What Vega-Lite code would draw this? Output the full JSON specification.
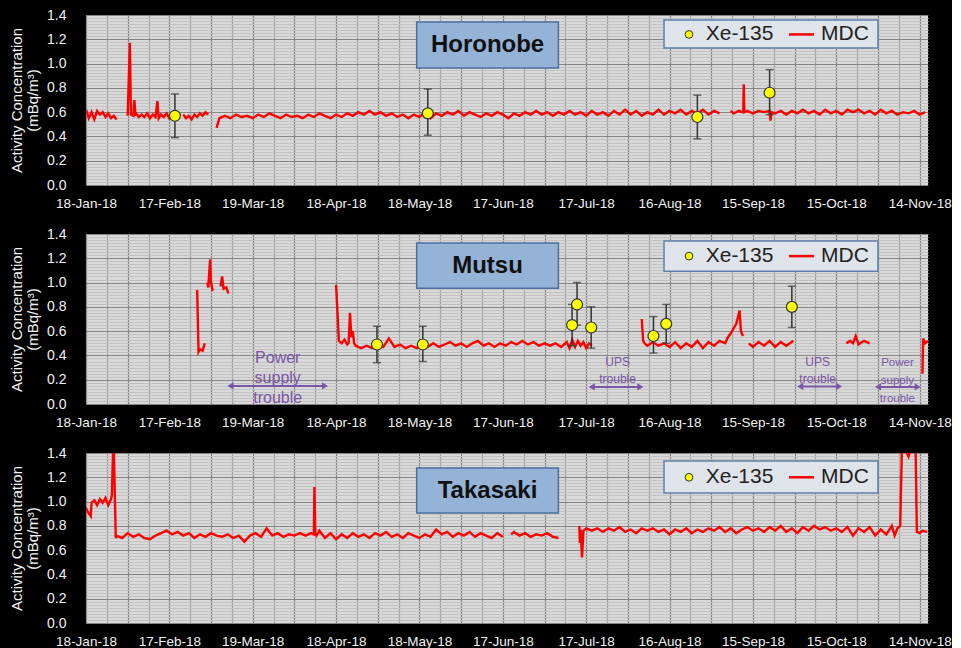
{
"$schema": "https://vega.github.io/schema/vega-lite/v6.json",
"background": "black",
"padding": {"left": 9, "top": 8, "right": 0, "bottom": 0},
"spacing": 17,
"config": {
  "font": "Liberation Sans",
  "view": {"fill": "#d9d9d9", "stroke": null},
  "axis": {"domain": false, "ticks": false, "labelColor": "#f2f2f2", "titleColor": "#f2f2f2", "labelOverlap": false}
},
"datasets": {
  "hor": [
    {"d":"2018-01-18","v":0.62,"g":1},{"d":"2018-01-19","v":0.55,"g":1},{"d":"2018-01-20","v":0.60,"g":1},{"d":"2018-01-21","v":0.54,"g":1},{"d":"2018-01-22","v":0.61,"g":1},{"d":"2018-01-23","v":0.58,"g":1},{"d":"2018-01-24","v":0.60,"g":1},{"d":"2018-01-25","v":0.56,"g":1},{"d":"2018-01-26","v":0.59,"g":1},{"d":"2018-01-27","v":0.55,"g":1},{"d":"2018-01-28","v":0.57,"g":1},{"d":"2018-01-29","v":0.54,"g":1},
    {"d":"2018-02-02","v":0.57,"g":2},{"d":"2018-02-02T19:00Z","v":1.17,"g":2},{"d":"2018-02-03T04:00Z","v":0.58,"g":2},{"d":"2018-02-04","v":0.57,"g":2},{"d":"2018-02-04T10:00Z","v":0.70,"g":2},{"d":"2018-02-04T20:00Z","v":0.57,"g":2},{"d":"2018-02-05","v":0.59,"g":2},{"d":"2018-02-06","v":0.56,"g":2},{"d":"2018-02-07","v":0.58,"g":2},{"d":"2018-02-08","v":0.56,"g":2},{"d":"2018-02-09","v":0.59,"g":2},{"d":"2018-02-10","v":0.55,"g":2},{"d":"2018-02-11","v":0.58,"g":2},{"d":"2018-02-12","v":0.56,"g":2},{"d":"2018-02-12T17:00Z","v":0.69,"g":2},{"d":"2018-02-13T04:00Z","v":0.55,"g":2},{"d":"2018-02-14","v":0.58,"g":2},{"d":"2018-02-15","v":0.56,"g":2},{"d":"2018-02-16","v":0.59,"g":2},{"d":"2018-02-17","v":0.55,"g":2},{"d":"2018-02-18","v":0.58,"g":2},{"d":"2018-02-19","v":0.57,"g":2},{"d":"2018-02-20","v":0.59,"g":2},{"d":"2018-02-21","v":0.57,"g":2},
    {"d":"2018-02-22","v":0.58,"g":3},{"d":"2018-02-23","v":0.55,"g":3},{"d":"2018-02-24","v":0.57,"g":3},{"d":"2018-02-25","v":0.54,"g":3},{"d":"2018-02-26","v":0.58,"g":3},{"d":"2018-02-27","v":0.56,"g":3},{"d":"2018-02-28","v":0.59,"g":3},{"d":"2018-03-01","v":0.57,"g":3},{"d":"2018-03-02","v":0.60,"g":3},{"d":"2018-03-03","v":0.58,"g":3},
    {"d":"2018-03-06","v":0.47,"g":4},{"d":"2018-03-07","v":0.55,"g":4},{"d":"2018-03-09","v":0.57,"g":4},{"d":"2018-03-11","v":0.55,"g":4},{"d":"2018-03-13","v":0.58,"g":4},{"d":"2018-03-15","v":0.56,"g":4},{"d":"2018-03-17","v":0.57,"g":4},{"d":"2018-03-19","v":0.55,"g":4},{"d":"2018-03-21","v":0.58,"g":4},{"d":"2018-03-23","v":0.56,"g":4},{"d":"2018-03-25","v":0.59,"g":4},{"d":"2018-03-27","v":0.57,"g":4},{"d":"2018-03-29","v":0.55,"g":4},{"d":"2018-03-31","v":0.58,"g":4},{"d":"2018-04-02","v":0.56,"g":4},{"d":"2018-04-04","v":0.57,"g":4},{"d":"2018-04-06","v":0.55,"g":4},{"d":"2018-04-08","v":0.58,"g":4},{"d":"2018-04-10","v":0.56,"g":4},{"d":"2018-04-12","v":0.59,"g":4},{"d":"2018-04-14","v":0.57,"g":4},{"d":"2018-04-16","v":0.55,"g":4},{"d":"2018-04-18","v":0.58,"g":4},{"d":"2018-04-20","v":0.56,"g":4},{"d":"2018-04-22","v":0.59,"g":4},{"d":"2018-04-24","v":0.57,"g":4},{"d":"2018-04-26","v":0.60,"g":4},{"d":"2018-04-28","v":0.58,"g":4},{"d":"2018-04-30","v":0.61,"g":4},{"d":"2018-05-02","v":0.58,"g":4},{"d":"2018-05-04","v":0.60,"g":4},{"d":"2018-05-06","v":0.57,"g":4},{"d":"2018-05-08","v":0.59,"g":4},{"d":"2018-05-10","v":0.56,"g":4},{"d":"2018-05-12","v":0.58,"g":4},{"d":"2018-05-14","v":0.55,"g":4},{"d":"2018-05-16","v":0.58,"g":4},{"d":"2018-05-18","v":0.56,"g":4},{"d":"2018-05-20","v":0.60,"g":4},{"d":"2018-05-22","v":0.55,"g":4},{"d":"2018-05-24","v":0.59,"g":4},{"d":"2018-05-26","v":0.57,"g":4},{"d":"2018-05-28","v":0.60,"g":4},{"d":"2018-05-30","v":0.58,"g":4},{"d":"2018-06-01","v":0.61,"g":4},{"d":"2018-06-03","v":0.57,"g":4},{"d":"2018-06-05","v":0.60,"g":4},{"d":"2018-06-07","v":0.58,"g":4},{"d":"2018-06-09","v":0.56,"g":4},{"d":"2018-06-11","v":0.59,"g":4},{"d":"2018-06-13","v":0.57,"g":4},{"d":"2018-06-15","v":0.60,"g":4},{"d":"2018-06-17","v":0.58,"g":4},{"d":"2018-06-19","v":0.55,"g":4},{"d":"2018-06-21","v":0.59,"g":4},{"d":"2018-06-23","v":0.57,"g":4},{"d":"2018-06-25","v":0.60,"g":4},{"d":"2018-06-27","v":0.58,"g":4},{"d":"2018-06-29","v":0.61,"g":4},{"d":"2018-07-01","v":0.58,"g":4},{"d":"2018-07-03","v":0.60,"g":4},{"d":"2018-07-05","v":0.57,"g":4},{"d":"2018-07-07","v":0.60,"g":4},{"d":"2018-07-09","v":0.58,"g":4},{"d":"2018-07-11","v":0.61,"g":4},{"d":"2018-07-13","v":0.58,"g":4},{"d":"2018-07-15","v":0.60,"g":4},{"d":"2018-07-17","v":0.57,"g":4},{"d":"2018-07-19","v":0.61,"g":4},{"d":"2018-07-21","v":0.58,"g":4},{"d":"2018-07-23","v":0.60,"g":4},{"d":"2018-07-25","v":0.57,"g":4},{"d":"2018-07-27","v":0.61,"g":4},{"d":"2018-07-29","v":0.58,"g":4},{"d":"2018-07-31","v":0.62,"g":4},{"d":"2018-08-02","v":0.58,"g":4},{"d":"2018-08-04","v":0.61,"g":4},{"d":"2018-08-06","v":0.57,"g":4},{"d":"2018-08-08","v":0.60,"g":4},{"d":"2018-08-10","v":0.58,"g":4},{"d":"2018-08-12","v":0.62,"g":4},{"d":"2018-08-14","v":0.58,"g":4},{"d":"2018-08-16","v":0.61,"g":4},{"d":"2018-08-18","v":0.59,"g":4},{"d":"2018-08-20","v":0.62,"g":4},{"d":"2018-08-22","v":0.58,"g":4},{"d":"2018-08-24","v":0.61,"g":4},{"d":"2018-08-26","v":0.59,"g":4},{"d":"2018-08-28","v":0.62,"g":4},{"d":"2018-08-30","v":0.58,"g":4},{"d":"2018-09-01","v":0.61,"g":4},{"d":"2018-09-03","v":0.59,"g":4},
    {"d":"2018-09-07","v":0.61,"g":5},{"d":"2018-09-08","v":0.59,"g":5},{"d":"2018-09-10","v":0.61,"g":5},{"d":"2018-09-11","v":0.60,"g":5},{"d":"2018-09-11T12:00Z","v":0.60,"g":5},{"d":"2018-09-11T17:00Z","v":0.83,"g":5},{"d":"2018-09-11T22:00Z","v":0.60,"g":5},{"d":"2018-09-13","v":0.61,"g":5},{"d":"2018-09-15","v":0.59,"g":5},{"d":"2018-09-17","v":0.61,"g":5},{"d":"2018-09-19","v":0.60,"g":5},{"d":"2018-09-21","v":0.61,"g":5},{"d":"2018-09-21T08:00Z","v":0.53,"g":5},{"d":"2018-09-21T16:00Z","v":0.60,"g":5},{"d":"2018-09-23","v":0.59,"g":5},{"d":"2018-09-25","v":0.61,"g":5},{"d":"2018-09-27","v":0.58,"g":5},{"d":"2018-09-29","v":0.61,"g":5},{"d":"2018-10-01","v":0.59,"g":5},{"d":"2018-10-03","v":0.62,"g":5},{"d":"2018-10-05","v":0.59,"g":5},{"d":"2018-10-07","v":0.61,"g":5},{"d":"2018-10-09","v":0.58,"g":5},{"d":"2018-10-11","v":0.62,"g":5},{"d":"2018-10-13","v":0.59,"g":5},{"d":"2018-10-15","v":0.61,"g":5},{"d":"2018-10-17","v":0.58,"g":5},{"d":"2018-10-19","v":0.62,"g":5},{"d":"2018-10-21","v":0.60,"g":5},{"d":"2018-10-23","v":0.62,"g":5},{"d":"2018-10-25","v":0.59,"g":5},{"d":"2018-10-27","v":0.61,"g":5},{"d":"2018-10-29","v":0.58,"g":5},{"d":"2018-10-31","v":0.62,"g":5},{"d":"2018-11-02","v":0.59,"g":5},{"d":"2018-11-04","v":0.61,"g":5},{"d":"2018-11-06","v":0.58,"g":5},{"d":"2018-11-08","v":0.60,"g":5},{"d":"2018-11-10","v":0.59,"g":5},{"d":"2018-11-12","v":0.61,"g":5},{"d":"2018-11-14","v":0.58,"g":5},{"d":"2018-11-16","v":0.60,"g":5}
  ],
  "mut": [
    {"d":"2018-02-27","v":0.94,"g":1},{"d":"2018-02-27T12:00Z","v":0.43,"g":1},{"d":"2018-02-28","v":0.45,"g":1},{"d":"2018-03-01","v":0.44,"g":1},{"d":"2018-03-01T18:00Z","v":0.50,"g":1},
    {"d":"2018-03-02T16:00Z","v":1.00,"g":2},{"d":"2018-03-03","v":0.96,"g":2},{"d":"2018-03-03T16:00Z","v":1.19,"g":2},{"d":"2018-03-04","v":1.00,"g":2},{"d":"2018-03-04T14:00Z","v":0.93,"g":2},
    {"d":"2018-03-07T10:00Z","v":0.97,"g":3},{"d":"2018-03-08","v":1.05,"g":3},{"d":"2018-03-08T12:00Z","v":0.95,"g":3},{"d":"2018-03-09T12:00Z","v":0.96,"g":3},{"d":"2018-03-10T05:00Z","v":0.91,"g":3},
    {"d":"2018-04-18","v":0.98,"g":4},{"d":"2018-04-19","v":0.52,"g":4},{"d":"2018-04-20","v":0.50,"g":4},{"d":"2018-04-21","v":0.53,"g":4},{"d":"2018-04-22","v":0.49,"g":4},{"d":"2018-04-22T12:00Z","v":0.50,"g":4},{"d":"2018-04-23","v":0.75,"g":4},{"d":"2018-04-23T12:00Z","v":0.55,"g":4},{"d":"2018-04-24","v":0.60,"g":4},{"d":"2018-04-24T12:00Z","v":0.50,"g":4},{"d":"2018-04-25","v":0.48,"g":4},{"d":"2018-04-27","v":0.46,"g":4},{"d":"2018-04-29","v":0.48,"g":4},{"d":"2018-05-01","v":0.46,"g":4},{"d":"2018-05-03","v":0.49,"g":4},{"d":"2018-05-05","v":0.47,"g":4},{"d":"2018-05-07","v":0.54,"g":4},{"d":"2018-05-09","v":0.47,"g":4},{"d":"2018-05-11","v":0.49,"g":4},{"d":"2018-05-13","v":0.46,"g":4},{"d":"2018-05-15","v":0.48,"g":4},{"d":"2018-05-17","v":0.46,"g":4},{"d":"2018-05-19","v":0.49,"g":4},{"d":"2018-05-21","v":0.47,"g":4},{"d":"2018-05-23","v":0.50,"g":4},{"d":"2018-05-25","v":0.47,"g":4},{"d":"2018-05-27","v":0.49,"g":4},{"d":"2018-05-29","v":0.51,"g":4},{"d":"2018-05-31","v":0.48,"g":4},{"d":"2018-06-02","v":0.50,"g":4},{"d":"2018-06-04","v":0.47,"g":4},{"d":"2018-06-06","v":0.50,"g":4},{"d":"2018-06-08","v":0.52,"g":4},{"d":"2018-06-10","v":0.48,"g":4},{"d":"2018-06-12","v":0.50,"g":4},{"d":"2018-06-14","v":0.47,"g":4},{"d":"2018-06-16","v":0.50,"g":4},{"d":"2018-06-18","v":0.48,"g":4},{"d":"2018-06-20","v":0.51,"g":4},{"d":"2018-06-22","v":0.49,"g":4},{"d":"2018-06-24","v":0.52,"g":4},{"d":"2018-06-26","v":0.49,"g":4},{"d":"2018-06-28","v":0.51,"g":4},{"d":"2018-06-30","v":0.48,"g":4},{"d":"2018-07-02","v":0.50,"g":4},{"d":"2018-07-04","v":0.48,"g":4},{"d":"2018-07-06","v":0.50,"g":4},{"d":"2018-07-08","v":0.47,"g":4},{"d":"2018-07-10","v":0.51,"g":4},{"d":"2018-07-11","v":0.46,"g":4},{"d":"2018-07-12","v":0.53,"g":4},{"d":"2018-07-13","v":0.47,"g":4},{"d":"2018-07-14","v":0.52,"g":4},{"d":"2018-07-15","v":0.48,"g":4},{"d":"2018-07-16","v":0.51,"g":4},{"d":"2018-07-17","v":0.46,"g":4},{"d":"2018-07-18","v":0.50,"g":4},{"d":"2018-07-19","v":0.48,"g":4},
    {"d":"2018-08-06","v":0.70,"g":5},{"d":"2018-08-06T12:00Z","v":0.52,"g":5},{"d":"2018-08-07","v":0.50,"g":5},{"d":"2018-08-08","v":0.48,"g":5},{"d":"2018-08-10","v":0.51,"g":5},{"d":"2018-08-12","v":0.48,"g":5},{"d":"2018-08-14","v":0.50,"g":5},{"d":"2018-08-16","v":0.47,"g":5},{"d":"2018-08-18","v":0.51,"g":5},{"d":"2018-08-20","v":0.46,"g":5},{"d":"2018-08-22","v":0.50,"g":5},{"d":"2018-08-24","v":0.47,"g":5},{"d":"2018-08-26","v":0.52,"g":5},{"d":"2018-08-28","v":0.46,"g":5},{"d":"2018-08-30","v":0.51,"g":5},{"d":"2018-09-01","v":0.48,"g":5},{"d":"2018-09-03","v":0.52,"g":5},{"d":"2018-09-05","v":0.50,"g":5},{"d":"2018-09-06","v":0.55,"g":5},{"d":"2018-09-07","v":0.58,"g":5},{"d":"2018-09-08","v":0.62,"g":5},{"d":"2018-09-09","v":0.66,"g":5},{"d":"2018-09-10T05:00Z","v":0.77,"g":5},{"d":"2018-09-10T16:00Z","v":0.60,"g":5},{"d":"2018-09-11T10:00Z","v":0.56,"g":5},
    {"d":"2018-09-13T12:00Z","v":0.50,"g":6},{"d":"2018-09-15","v":0.47,"g":6},{"d":"2018-09-17","v":0.51,"g":6},{"d":"2018-09-19","v":0.48,"g":6},{"d":"2018-09-21","v":0.52,"g":6},{"d":"2018-09-23","v":0.47,"g":6},{"d":"2018-09-25","v":0.51,"g":6},{"d":"2018-09-27","v":0.48,"g":6},{"d":"2018-09-29T14:00Z","v":0.52,"g":6},
    {"d":"2018-10-18T14:00Z","v":0.50,"g":7},{"d":"2018-10-20","v":0.52,"g":7},{"d":"2018-10-21","v":0.50,"g":7},{"d":"2018-10-22","v":0.56,"g":7},{"d":"2018-10-23","v":0.49,"g":7},{"d":"2018-10-25","v":0.52,"g":7},{"d":"2018-10-27","v":0.50,"g":7},
    {"d":"2018-11-15","v":0.25,"g":8},{"d":"2018-11-15T06:00Z","v":0.54,"g":8},{"d":"2018-11-16","v":0.50,"g":8},{"d":"2018-11-17","v":0.52,"g":8}
  ],
  "tak": [
    {"d":"2018-01-18","v":0.95,"g":1},{"d":"2018-01-18T12:00Z","v":0.92,"g":1},{"d":"2018-01-19T17:00Z","v":0.88,"g":1},{"d":"2018-01-20","v":0.99,"g":1},{"d":"2018-01-21","v":1.01,"g":1},{"d":"2018-01-22","v":0.97,"g":1},{"d":"2018-01-23","v":1.02,"g":1},{"d":"2018-01-24","v":0.99,"g":1},{"d":"2018-01-25","v":1.03,"g":1},{"d":"2018-01-26","v":0.97,"g":1},{"d":"2018-01-27","v":1.02,"g":1},{"d":"2018-01-27T07:00Z","v":1.05,"g":1},{"d":"2018-01-27T22:00Z","v":1.55,"g":1},{"d":"2018-01-28T17:00Z","v":0.70,"g":1},{"d":"2018-01-29","v":0.72,"g":1},{"d":"2018-01-31","v":0.70,"g":1},{"d":"2018-02-02","v":0.74,"g":1},{"d":"2018-02-04","v":0.71,"g":1},{"d":"2018-02-06","v":0.73,"g":1},{"d":"2018-02-08","v":0.70,"g":1},{"d":"2018-02-10","v":0.69,"g":1},{"d":"2018-02-12","v":0.72,"g":1},{"d":"2018-02-14","v":0.74,"g":1},{"d":"2018-02-16","v":0.76,"g":1},{"d":"2018-02-18","v":0.73,"g":1},{"d":"2018-02-20","v":0.75,"g":1},{"d":"2018-02-22","v":0.72,"g":1},{"d":"2018-02-24","v":0.74,"g":1},{"d":"2018-02-26","v":0.70,"g":1},{"d":"2018-02-28","v":0.73,"g":1},{"d":"2018-03-02","v":0.71,"g":1},{"d":"2018-03-04","v":0.74,"g":1},{"d":"2018-03-06","v":0.72,"g":1},{"d":"2018-03-08","v":0.71,"g":1},{"d":"2018-03-10","v":0.73,"g":1},{"d":"2018-03-12","v":0.70,"g":1},{"d":"2018-03-14","v":0.72,"g":1},{"d":"2018-03-16","v":0.67,"g":1},{"d":"2018-03-18","v":0.72,"g":1},{"d":"2018-03-20","v":0.74,"g":1},{"d":"2018-03-22","v":0.71,"g":1},{"d":"2018-03-24","v":0.78,"g":1},{"d":"2018-03-26","v":0.72,"g":1},{"d":"2018-03-28","v":0.74,"g":1},{"d":"2018-03-30","v":0.71,"g":1},{"d":"2018-04-01","v":0.73,"g":1},{"d":"2018-04-03","v":0.72,"g":1},{"d":"2018-04-05","v":0.74,"g":1},{"d":"2018-04-07","v":0.72,"g":1},{"d":"2018-04-09","v":0.74,"g":1},{"d":"2018-04-10","v":0.73,"g":1},{"d":"2018-04-10T05:00Z","v":1.12,"g":1},{"d":"2018-04-10T12:00Z","v":0.74,"g":1},{"d":"2018-04-11","v":0.72,"g":1},{"d":"2018-04-12","v":0.76,"g":1},{"d":"2018-04-14","v":0.70,"g":1},{"d":"2018-04-16","v":0.74,"g":1},{"d":"2018-04-18","v":0.69,"g":1},{"d":"2018-04-20","v":0.73,"g":1},{"d":"2018-04-22","v":0.70,"g":1},{"d":"2018-04-24","v":0.74,"g":1},{"d":"2018-04-26","v":0.71,"g":1},{"d":"2018-04-28","v":0.73,"g":1},{"d":"2018-04-30","v":0.70,"g":1},{"d":"2018-05-02","v":0.74,"g":1},{"d":"2018-05-04","v":0.72,"g":1},{"d":"2018-05-06","v":0.75,"g":1},{"d":"2018-05-08","v":0.71,"g":1},{"d":"2018-05-10","v":0.73,"g":1},{"d":"2018-05-12","v":0.70,"g":1},{"d":"2018-05-14","v":0.74,"g":1},{"d":"2018-05-16","v":0.72,"g":1},{"d":"2018-05-18","v":0.70,"g":1},{"d":"2018-05-20","v":0.73,"g":1},{"d":"2018-05-22","v":0.71,"g":1},{"d":"2018-05-24","v":0.77,"g":1},{"d":"2018-05-26","v":0.73,"g":1},{"d":"2018-05-28","v":0.75,"g":1},{"d":"2018-05-30","v":0.71,"g":1},{"d":"2018-06-01","v":0.74,"g":1},{"d":"2018-06-03","v":0.72,"g":1},{"d":"2018-06-05","v":0.75,"g":1},{"d":"2018-06-07","v":0.71,"g":1},{"d":"2018-06-09","v":0.74,"g":1},{"d":"2018-06-11","v":0.72,"g":1},{"d":"2018-06-13","v":0.70,"g":1},{"d":"2018-06-15","v":0.74,"g":1},{"d":"2018-06-17","v":0.71,"g":1},
    {"d":"2018-06-20","v":0.73,"g":2},{"d":"2018-06-21","v":0.75,"g":2},{"d":"2018-06-23","v":0.72,"g":2},{"d":"2018-06-25","v":0.74,"g":2},{"d":"2018-06-27","v":0.71,"g":2},{"d":"2018-06-29","v":0.73,"g":2},{"d":"2018-07-01","v":0.72,"g":2},{"d":"2018-07-03","v":0.74,"g":2},{"d":"2018-07-05","v":0.71,"g":2},{"d":"2018-07-07","v":0.70,"g":2},
    {"d":"2018-07-14T12:00Z","v":0.80,"g":3},{"d":"2018-07-14T18:00Z","v":0.66,"g":3},{"d":"2018-07-15","v":0.77,"g":3},{"d":"2018-07-15T12:00Z","v":0.54,"g":3},{"d":"2018-07-16","v":0.76,"g":3},{"d":"2018-07-17","v":0.78,"g":3},{"d":"2018-07-19","v":0.76,"g":3},{"d":"2018-07-21","v":0.78,"g":3},{"d":"2018-07-23","v":0.75,"g":3},{"d":"2018-07-25","v":0.78,"g":3},{"d":"2018-07-27","v":0.76,"g":3},{"d":"2018-07-29","v":0.79,"g":3},{"d":"2018-07-31","v":0.75,"g":3},{"d":"2018-08-02","v":0.77,"g":3},{"d":"2018-08-04","v":0.74,"g":3},{"d":"2018-08-06","v":0.78,"g":3},{"d":"2018-08-08","v":0.76,"g":3},{"d":"2018-08-10","v":0.78,"g":3},{"d":"2018-08-12","v":0.75,"g":3},{"d":"2018-08-14","v":0.77,"g":3},{"d":"2018-08-16","v":0.73,"g":3},{"d":"2018-08-18","v":0.77,"g":3},{"d":"2018-08-20","v":0.75,"g":3},{"d":"2018-08-22","v":0.78,"g":3},{"d":"2018-08-24","v":0.74,"g":3},{"d":"2018-08-26","v":0.77,"g":3},{"d":"2018-08-28","v":0.75,"g":3},{"d":"2018-08-30","v":0.78,"g":3},{"d":"2018-09-01","v":0.76,"g":3},{"d":"2018-09-03","v":0.79,"g":3},{"d":"2018-09-05","v":0.75,"g":3},{"d":"2018-09-07","v":0.78,"g":3},{"d":"2018-09-09","v":0.74,"g":3},{"d":"2018-09-11","v":0.77,"g":3},{"d":"2018-09-13","v":0.79,"g":3},{"d":"2018-09-15","v":0.76,"g":3},{"d":"2018-09-17","v":0.78,"g":3},{"d":"2018-09-19","v":0.75,"g":3},{"d":"2018-09-21","v":0.79,"g":3},{"d":"2018-09-23","v":0.76,"g":3},{"d":"2018-09-25","v":0.80,"g":3},{"d":"2018-09-27","v":0.75,"g":3},{"d":"2018-09-29","v":0.78,"g":3},{"d":"2018-10-01","v":0.74,"g":3},{"d":"2018-10-03","v":0.79,"g":3},{"d":"2018-10-05","v":0.76,"g":3},{"d":"2018-10-07","v":0.80,"g":3},{"d":"2018-10-09","v":0.77,"g":3},{"d":"2018-10-11","v":0.79,"g":3},{"d":"2018-10-13","v":0.76,"g":3},{"d":"2018-10-15","v":0.78,"g":3},{"d":"2018-10-17","v":0.75,"g":3},{"d":"2018-10-19","v":0.79,"g":3},{"d":"2018-10-21","v":0.72,"g":3},{"d":"2018-10-23","v":0.78,"g":3},{"d":"2018-10-25","v":0.75,"g":3},{"d":"2018-10-27","v":0.79,"g":3},{"d":"2018-10-29","v":0.72,"g":3},{"d":"2018-10-31","v":0.77,"g":3},{"d":"2018-11-02","v":0.73,"g":3},{"d":"2018-11-04","v":0.80,"g":3},{"d":"2018-11-05","v":0.72,"g":3},{"d":"2018-11-06","v":0.78,"g":3},{"d":"2018-11-07","v":0.80,"g":3},{"d":"2018-11-07T16:00Z","v":1.50,"g":3},{"d":"2018-11-08","v":1.45,"g":3},{"d":"2018-11-09","v":1.42,"g":3},{"d":"2018-11-10","v":1.37,"g":3},{"d":"2018-11-11","v":1.45,"g":3},{"d":"2018-11-12T12:00Z","v":1.50,"g":3},{"d":"2018-11-13","v":0.75,"g":3},{"d":"2018-11-14","v":0.74,"g":3},{"d":"2018-11-15","v":0.76,"g":3},{"d":"2018-11-16T18:00Z","v":0.75,"g":3}
  ],
  "xeH": [
    {"d":"2018-02-19","v":0.57,"lo":0.39,"hi":0.75},
    {"d":"2018-05-21","v":0.59,"lo":0.41,"hi":0.79},
    {"d":"2018-08-26","v":0.56,"lo":0.38,"hi":0.74},
    {"d":"2018-09-21","v":0.76,"lo":0.58,"hi":0.95}
  ],
  "xeM": [
    {"d":"2018-05-02T17:00Z","v":0.49,"lo":0.34,"hi":0.64},
    {"d":"2018-05-19T05:00Z","v":0.49,"lo":0.35,"hi":0.64},
    {"d":"2018-07-11T22:00Z","v":0.65,"lo":0.48,"hi":0.82},
    {"d":"2018-07-13T17:00Z","v":0.82,"lo":0.65,"hi":1.00},
    {"d":"2018-07-18T19:00Z","v":0.63,"lo":0.46,"hi":0.80},
    {"d":"2018-08-10T05:00Z","v":0.56,"lo":0.42,"hi":0.72},
    {"d":"2018-08-14T19:00Z","v":0.66,"lo":0.50,"hi":0.82},
    {"d":"2018-09-29","v":0.80,"lo":0.63,"hi":0.97}
  ]
},
"vconcat": [
 {
  "width": 842, "height": 170,
  "layer": [
   {"data": {"name": "hor"}, "mark": {"type": "line", "color": "#ff0000", "strokeWidth": 2.4, "clip": true},
    "encoding": {
     "x": {"field": "d", "type": "temporal", "scale": {"type": "utc", "domain": [1516233600000, 1542412800000]},
       "axis": {"title": null, "labelOverlap": false, "tickCount": 500, "values": [1516233600000,1516881600000,1517529600000,1518177600000,1518825600000,1519473600000,1520121600000,1520769600000,1521417600000,1522065600000,1522713600000,1523361600000,1524009600000,1524657600000,1525305600000,1525953600000,1526601600000,1527249600000,1527897600000,1528545600000,1529193600000,1529841600000,1530489600000,1531137600000,1531785600000,1532433600000,1533081600000,1533729600000,1534377600000,1535025600000,1535673600000,1536321600000,1536969600000,1537617600000,1538265600000,1538913600000,1539561600000,1540209600000,1540857600000,1541505600000,1542153600000],
         "labelExpr": "round((datum.value-1516233600000)/648000000) % 4 == 0 ? utcFormat(datum.value, '%d-%b-%y') : ''",
         "gridColor": {"condition": {"test": "round((datum.value-1516233600000)/648000000) % 2 == 0", "value": "#858585"}, "value": "#a0a0a0"},
         "gridWidth": 1.2, "labelFontSize": 13.5, "labelPadding": 11, "labelFlush": false}},
     "y": {"field": "v", "type": "quantitative", "scale": {"domain": [0, 1.4], "nice": false},
       "axis": {"title": ["Activity Concentration", "(mBq/m³)"], "labelOverlap": false, "tickCount": 500, "values": [0,0.025,0.05,0.075,0.1,0.125,0.15,0.175,0.2,0.225,0.25,0.275,0.3,0.325,0.35,0.375,0.4,0.425,0.45,0.475,0.5,0.525,0.55,0.575,0.6,0.625,0.65,0.675,0.7,0.725,0.75,0.775,0.8,0.825,0.85,0.875,0.9,0.925,0.95,0.975,1,1.025,1.05,1.075,1.1,1.125,1.15,1.175,1.2,1.225,1.25,1.275,1.3,1.325,1.35,1.375,1.4],
         "labelExpr": "round(datum.value*40) % 8 == 0 ? format(datum.value, '.1f') : ''",
         "gridColor": {"condition": {"test": "round(datum.value*40) % 8 == 0", "value": "#858585"}, "value": "#c2c2c2"},
         "labelFontSize": 14, "labelPadding": 20, "titleFontSize": 15, "titleFontWeight": "normal", "titlePadding": 6, "titleLineHeight": 16}},
     "detail": {"field": "g"}}},
   {"data": {"name": "xeH"}, "mark": {"type": "rule", "color": "#333333", "strokeWidth": 1.5},
    "encoding": {"x": {"field": "d", "type": "temporal"}, "y": {"field": "lo", "type": "quantitative"}, "y2": {"field": "hi"}}},
   {"data": {"name": "xeH"}, "mark": {"type": "tick", "orient": "horizontal", "color": "#333333", "size": 8, "thickness": 1.5},
    "encoding": {"x": {"field": "d", "type": "temporal"}, "y": {"field": "lo", "type": "quantitative"}}},
   {"data": {"name": "xeH"}, "mark": {"type": "tick", "orient": "horizontal", "color": "#333333", "size": 8, "thickness": 1.5},
    "encoding": {"x": {"field": "d", "type": "temporal"}, "y": {"field": "hi", "type": "quantitative"}}},
   {"data": {"name": "xeH"}, "mark": {"type": "point", "filled": true, "fill": "#ffff00", "stroke": "#333333", "strokeWidth": 1.2, "size": 120, "opacity": 1},
    "encoding": {"x": {"field": "d", "type": "temporal"}, "y": {"field": "v", "type": "quantitative"}}},
   {"data": {"values": [{}]}, "mark": {"type": "rect", "fill": "#95b3d7", "stroke": "#4a6fa0", "strokeWidth": 1.5},
    "encoding": {"x": {"datum": {"year": 2018, "month": 5, "date": 17, "utc": true}, "type": "temporal"}, "x2": {"datum": {"year": 2018, "month": 7, "date": 7, "utc": true}}, "y": {"datum": 1.342, "type": "quantitative"}, "y2": {"datum": 0.963}}},
   {"data": {"values": [{}]}, "mark": {"type": "text", "text": "Horonobe", "fontSize": 24, "fontWeight": "bold", "color": "#111111", "baseline": "middle", "align": "center"},
    "encoding": {"x": {"datum": {"year": 2018, "month": 6, "date": 11, "hours": 12, "utc": true}, "type": "temporal"}, "y": {"datum": 1.15, "type": "quantitative"}}},
   {"data": {"values": [{}]}, "mark": {"type": "rect", "fill": "#dfe3ea", "stroke": "#5f7fab", "strokeWidth": 1.5},
    "encoding": {"x": {"datum": {"year": 2018, "month": 8, "date": 14, "utc": true}, "type": "temporal"}, "x2": {"datum": {"year": 2018, "month": 10, "date": 30, "utc": true}}, "y": {"datum": 1.359, "type": "quantitative"}, "y2": {"datum": 1.128}}},
   {"data": {"values": [{}]}, "mark": {"type": "point", "filled": true, "fill": "#ffff00", "stroke": "#333333", "strokeWidth": 1, "size": 60, "opacity": 1},
    "encoding": {"x": {"datum": {"year": 2018, "month": 8, "date": 23, "utc": true}, "type": "temporal"}, "y": {"datum": 1.24, "type": "quantitative"}}},
   {"data": {"values": [{}]}, "mark": {"type": "text", "text": "Xe-135", "fontSize": 21, "color": "#222222", "baseline": "middle", "align": "left"},
    "encoding": {"x": {"datum": {"year": 2018, "month": 8, "date": 29, "utc": true}, "type": "temporal"}, "y": {"datum": 1.24, "type": "quantitative"}}},
   {"data": {"values": [{}]}, "mark": {"type": "rule", "color": "#ff0000", "strokeWidth": 2.5},
    "encoding": {"x": {"datum": {"year": 2018, "month": 9, "date": 28, "utc": true}, "type": "temporal"}, "x2": {"datum": {"year": 2018, "month": 10, "date": 7, "utc": true}}, "y": {"datum": 1.24, "type": "quantitative"}}},
   {"data": {"values": [{}]}, "mark": {"type": "text", "text": "MDC", "fontSize": 21, "color": "#222222", "baseline": "middle", "align": "left"},
    "encoding": {"x": {"datum": {"year": 2018, "month": 10, "date": 9, "hours": 12, "utc": true}, "type": "temporal"}, "y": {"datum": 1.24, "type": "quantitative"}}}
  ]
 },
 {
  "width": 842, "height": 170,
  "layer": [
   {"data": {"name": "mut"}, "mark": {"type": "line", "color": "#ff0000", "strokeWidth": 2.4, "clip": true},
    "encoding": {
     "x": {"field": "d", "type": "temporal", "scale": {"type": "utc", "domain": [1516233600000, 1542412800000]},
       "axis": {"title": null, "labelOverlap": false, "tickCount": 500, "values": [1516233600000,1516881600000,1517529600000,1518177600000,1518825600000,1519473600000,1520121600000,1520769600000,1521417600000,1522065600000,1522713600000,1523361600000,1524009600000,1524657600000,1525305600000,1525953600000,1526601600000,1527249600000,1527897600000,1528545600000,1529193600000,1529841600000,1530489600000,1531137600000,1531785600000,1532433600000,1533081600000,1533729600000,1534377600000,1535025600000,1535673600000,1536321600000,1536969600000,1537617600000,1538265600000,1538913600000,1539561600000,1540209600000,1540857600000,1541505600000,1542153600000],
         "labelExpr": "round((datum.value-1516233600000)/648000000) % 4 == 0 ? utcFormat(datum.value, '%d-%b-%y') : ''",
         "gridColor": {"condition": {"test": "round((datum.value-1516233600000)/648000000) % 2 == 0", "value": "#858585"}, "value": "#a0a0a0"},
         "gridWidth": 1.2, "labelFontSize": 13.5, "labelPadding": 11, "labelFlush": false}},
     "y": {"field": "v", "type": "quantitative", "scale": {"domain": [0, 1.4], "nice": false},
       "axis": {"title": ["Activity Concentration", "(mBq/m³)"], "labelOverlap": false, "tickCount": 500, "values": [0,0.025,0.05,0.075,0.1,0.125,0.15,0.175,0.2,0.225,0.25,0.275,0.3,0.325,0.35,0.375,0.4,0.425,0.45,0.475,0.5,0.525,0.55,0.575,0.6,0.625,0.65,0.675,0.7,0.725,0.75,0.775,0.8,0.825,0.85,0.875,0.9,0.925,0.95,0.975,1,1.025,1.05,1.075,1.1,1.125,1.15,1.175,1.2,1.225,1.25,1.275,1.3,1.325,1.35,1.375,1.4],
         "labelExpr": "round(datum.value*40) % 8 == 0 ? format(datum.value, '.1f') : ''",
         "gridColor": {"condition": {"test": "round(datum.value*40) % 8 == 0", "value": "#858585"}, "value": "#c2c2c2"},
         "labelFontSize": 14, "labelPadding": 20, "titleFontSize": 15, "titleFontWeight": "normal", "titlePadding": 6, "titleLineHeight": 16}},
     "detail": {"field": "g"}}},
   {"data": {"name": "xeM"}, "mark": {"type": "rule", "color": "#333333", "strokeWidth": 1.5},
    "encoding": {"x": {"field": "d", "type": "temporal"}, "y": {"field": "lo", "type": "quantitative"}, "y2": {"field": "hi"}}},
   {"data": {"name": "xeM"}, "mark": {"type": "tick", "orient": "horizontal", "color": "#333333", "size": 8, "thickness": 1.5},
    "encoding": {"x": {"field": "d", "type": "temporal"}, "y": {"field": "lo", "type": "quantitative"}}},
   {"data": {"name": "xeM"}, "mark": {"type": "tick", "orient": "horizontal", "color": "#333333", "size": 8, "thickness": 1.5},
    "encoding": {"x": {"field": "d", "type": "temporal"}, "y": {"field": "hi", "type": "quantitative"}}},
   {"data": {"name": "xeM"}, "mark": {"type": "point", "filled": true, "fill": "#ffff00", "stroke": "#333333", "strokeWidth": 1.2, "size": 120, "opacity": 1},
    "encoding": {"x": {"field": "d", "type": "temporal"}, "y": {"field": "v", "type": "quantitative"}}},
   {"data": {"values": [{}]}, "mark": {"type": "text", "text": ["Power", "supply", "trouble"], "fontSize": 16, "lineHeight": 20, "color": "#7b56a8", "baseline": "middle", "align": "center"},
    "encoding": {"x": {"datum": {"year": 2018, "month": 3, "date": 28, "utc": true}, "type": "temporal"}, "y": {"datum": 0.381, "type": "quantitative"}}},
   {"data": {"values": [{}]}, "mark": {"type": "rule", "color": "#7b56a8", "strokeWidth": 2},
    "encoding": {"x": {"datum": {"year": 2018, "month": 3, "date": 11, "utc": true}, "type": "temporal"}, "x2": {"datum": {"year": 2018, "month": 4, "date": 14, "utc": true}}, "y": {"datum": 0.149, "type": "quantitative"}}},
   {"data": {"values": [{}]}, "mark": {"type": "point", "shape": "triangle-left", "filled": true, "color": "#7b56a8", "size": 50, "opacity": 1},
    "encoding": {"x": {"datum": {"year": 2018, "month": 3, "date": 11, "utc": true}, "type": "temporal"}, "y": {"datum": 0.149, "type": "quantitative"}}},
   {"data": {"values": [{}]}, "mark": {"type": "point", "shape": "triangle-right", "filled": true, "color": "#7b56a8", "size": 50, "opacity": 1},
    "encoding": {"x": {"datum": {"year": 2018, "month": 4, "date": 14, "utc": true}, "type": "temporal"}, "y": {"datum": 0.149, "type": "quantitative"}}},
   {"data": {"values": [{}]}, "mark": {"type": "text", "text": ["UPS", "trouble"], "fontSize": 12, "lineHeight": 17, "color": "#7b56a8", "baseline": "middle", "align": "center"},
    "encoding": {"x": {"datum": {"year": 2018, "month": 7, "date": 28, "hours": 7, "utc": true}, "type": "temporal"}, "y": {"datum": 0.344, "type": "quantitative"}}},
   {"data": {"values": [{}]}, "mark": {"type": "rule", "color": "#7b56a8", "strokeWidth": 2},
    "encoding": {"x": {"datum": {"year": 2018, "month": 7, "date": 19, "utc": true}, "type": "temporal"}, "x2": {"datum": {"year": 2018, "month": 8, "date": 5, "hours": 12, "utc": true}}, "y": {"datum": 0.141, "type": "quantitative"}}},
   {"data": {"values": [{}]}, "mark": {"type": "point", "shape": "triangle-left", "filled": true, "color": "#7b56a8", "size": 50, "opacity": 1},
    "encoding": {"x": {"datum": {"year": 2018, "month": 7, "date": 19, "utc": true}, "type": "temporal"}, "y": {"datum": 0.141, "type": "quantitative"}}},
   {"data": {"values": [{}]}, "mark": {"type": "point", "shape": "triangle-right", "filled": true, "color": "#7b56a8", "size": 50, "opacity": 1},
    "encoding": {"x": {"datum": {"year": 2018, "month": 8, "date": 5, "hours": 12, "utc": true}, "type": "temporal"}, "y": {"datum": 0.141, "type": "quantitative"}}},
   {"data": {"values": [{}]}, "mark": {"type": "text", "text": ["UPS", "trouble"], "fontSize": 12, "lineHeight": 17, "color": "#7b56a8", "baseline": "middle", "align": "center"},
    "encoding": {"x": {"datum": {"year": 2018, "month": 10, "date": 8, "hours": 7, "utc": true}, "type": "temporal"}, "y": {"datum": 0.344, "type": "quantitative"}}},
   {"data": {"values": [{}]}, "mark": {"type": "rule", "color": "#7b56a8", "strokeWidth": 2},
    "encoding": {"x": {"datum": {"year": 2018, "month": 10, "date": 2, "utc": true}, "type": "temporal"}, "x2": {"datum": {"year": 2018, "month": 10, "date": 16, "utc": true}}, "y": {"datum": 0.145, "type": "quantitative"}}},
   {"data": {"values": [{}]}, "mark": {"type": "point", "shape": "triangle-left", "filled": true, "color": "#7b56a8", "size": 50, "opacity": 1},
    "encoding": {"x": {"datum": {"year": 2018, "month": 10, "date": 2, "utc": true}, "type": "temporal"}, "y": {"datum": 0.145, "type": "quantitative"}}},
   {"data": {"values": [{}]}, "mark": {"type": "point", "shape": "triangle-right", "filled": true, "color": "#7b56a8", "size": 50, "opacity": 1},
    "encoding": {"x": {"datum": {"year": 2018, "month": 10, "date": 16, "utc": true}, "type": "temporal"}, "y": {"datum": 0.145, "type": "quantitative"}}},
   {"data": {"values": [{}]}, "mark": {"type": "text", "text": ["Power", "supply", "trouble"], "fontSize": 11.5, "lineHeight": 18, "color": "#7b56a8", "baseline": "middle", "align": "center"},
    "encoding": {"x": {"datum": {"year": 2018, "month": 11, "date": 6, "utc": true}, "type": "temporal"}, "y": {"datum": 0.34, "type": "quantitative"}}},
   {"data": {"values": [{}]}, "mark": {"type": "rule", "color": "#7b56a8", "strokeWidth": 2},
    "encoding": {"x": {"datum": {"year": 2018, "month": 10, "date": 30, "utc": true}, "type": "temporal"}, "x2": {"datum": {"year": 2018, "month": 11, "date": 13, "hours": 7, "utc": true}}, "y": {"datum": 0.141, "type": "quantitative"}}},
   {"data": {"values": [{}]}, "mark": {"type": "point", "shape": "triangle-left", "filled": true, "color": "#7b56a8", "size": 50, "opacity": 1},
    "encoding": {"x": {"datum": {"year": 2018, "month": 10, "date": 30, "utc": true}, "type": "temporal"}, "y": {"datum": 0.141, "type": "quantitative"}}},
   {"data": {"values": [{}]}, "mark": {"type": "point", "shape": "triangle-right", "filled": true, "color": "#7b56a8", "size": 50, "opacity": 1},
    "encoding": {"x": {"datum": {"year": 2018, "month": 11, "date": 13, "hours": 7, "utc": true}, "type": "temporal"}, "y": {"datum": 0.141, "type": "quantitative"}}},
   {"data": {"values": [{}]}, "mark": {"type": "rect", "fill": "#95b3d7", "stroke": "#4a6fa0", "strokeWidth": 1.5},
    "encoding": {"x": {"datum": {"year": 2018, "month": 5, "date": 17, "utc": true}, "type": "temporal"}, "x2": {"datum": {"year": 2018, "month": 7, "date": 7, "utc": true}}, "y": {"datum": 1.326, "type": "quantitative"}, "y2": {"datum": 0.953}}},
   {"data": {"values": [{}]}, "mark": {"type": "text", "text": "Mutsu", "fontSize": 24, "fontWeight": "bold", "color": "#111111", "baseline": "middle", "align": "center"},
    "encoding": {"x": {"datum": {"year": 2018, "month": 6, "date": 11, "hours": 12, "utc": true}, "type": "temporal"}, "y": {"datum": 1.14, "type": "quantitative"}}},
   {"data": {"values": [{}]}, "mark": {"type": "rect", "fill": "#dfe3ea", "stroke": "#5f7fab", "strokeWidth": 1.5},
    "encoding": {"x": {"datum": {"year": 2018, "month": 8, "date": 14, "utc": true}, "type": "temporal"}, "x2": {"datum": {"year": 2018, "month": 10, "date": 30, "utc": true}}, "y": {"datum": 1.342, "type": "quantitative"}, "y2": {"datum": 1.094}}},
   {"data": {"values": [{}]}, "mark": {"type": "point", "filled": true, "fill": "#ffff00", "stroke": "#333333", "strokeWidth": 1, "size": 60, "opacity": 1},
    "encoding": {"x": {"datum": {"year": 2018, "month": 8, "date": 23, "utc": true}, "type": "temporal"}, "y": {"datum": 1.218, "type": "quantitative"}}},
   {"data": {"values": [{}]}, "mark": {"type": "text", "text": "Xe-135", "fontSize": 21, "color": "#222222", "baseline": "middle", "align": "left"},
    "encoding": {"x": {"datum": {"year": 2018, "month": 8, "date": 29, "utc": true}, "type": "temporal"}, "y": {"datum": 1.218, "type": "quantitative"}}},
   {"data": {"values": [{}]}, "mark": {"type": "rule", "color": "#ff0000", "strokeWidth": 2.5},
    "encoding": {"x": {"datum": {"year": 2018, "month": 9, "date": 28, "utc": true}, "type": "temporal"}, "x2": {"datum": {"year": 2018, "month": 10, "date": 7, "utc": true}}, "y": {"datum": 1.218, "type": "quantitative"}}},
   {"data": {"values": [{}]}, "mark": {"type": "text", "text": "MDC", "fontSize": 21, "color": "#222222", "baseline": "middle", "align": "left"},
    "encoding": {"x": {"datum": {"year": 2018, "month": 10, "date": 9, "hours": 12, "utc": true}, "type": "temporal"}, "y": {"datum": 1.218, "type": "quantitative"}}}
  ]
 },
 {
  "width": 842, "height": 170,
  "layer": [
   {"data": {"name": "tak"}, "mark": {"type": "line", "color": "#ff0000", "strokeWidth": 2.4, "clip": true},
    "encoding": {
     "x": {"field": "d", "type": "temporal", "scale": {"type": "utc", "domain": [1516233600000, 1542412800000]},
       "axis": {"title": null, "labelOverlap": false, "tickCount": 500, "values": [1516233600000,1516881600000,1517529600000,1518177600000,1518825600000,1519473600000,1520121600000,1520769600000,1521417600000,1522065600000,1522713600000,1523361600000,1524009600000,1524657600000,1525305600000,1525953600000,1526601600000,1527249600000,1527897600000,1528545600000,1529193600000,1529841600000,1530489600000,1531137600000,1531785600000,1532433600000,1533081600000,1533729600000,1534377600000,1535025600000,1535673600000,1536321600000,1536969600000,1537617600000,1538265600000,1538913600000,1539561600000,1540209600000,1540857600000,1541505600000,1542153600000],
         "labelExpr": "round((datum.value-1516233600000)/648000000) % 4 == 0 ? utcFormat(datum.value, '%d-%b-%y') : ''",
         "gridColor": {"condition": {"test": "round((datum.value-1516233600000)/648000000) % 2 == 0", "value": "#858585"}, "value": "#a0a0a0"},
         "gridWidth": 1.2, "labelFontSize": 13.5, "labelPadding": 11, "labelFlush": false}},
     "y": {"field": "v", "type": "quantitative", "scale": {"domain": [0, 1.4], "nice": false},
       "axis": {"title": ["Activity Concentration", "(mBq/m³)"], "labelOverlap": false, "tickCount": 500, "values": [0,0.025,0.05,0.075,0.1,0.125,0.15,0.175,0.2,0.225,0.25,0.275,0.3,0.325,0.35,0.375,0.4,0.425,0.45,0.475,0.5,0.525,0.55,0.575,0.6,0.625,0.65,0.675,0.7,0.725,0.75,0.775,0.8,0.825,0.85,0.875,0.9,0.925,0.95,0.975,1,1.025,1.05,1.075,1.1,1.125,1.15,1.175,1.2,1.225,1.25,1.275,1.3,1.325,1.35,1.375,1.4],
         "labelExpr": "round(datum.value*40) % 8 == 0 ? format(datum.value, '.1f') : ''",
         "gridColor": {"condition": {"test": "round(datum.value*40) % 8 == 0", "value": "#858585"}, "value": "#c2c2c2"},
         "labelFontSize": 14, "labelPadding": 20, "titleFontSize": 15, "titleFontWeight": "normal", "titlePadding": 6, "titleLineHeight": 16}},
     "detail": {"field": "g"}}},
   {"data": {"values": [{}]}, "mark": {"type": "rect", "fill": "#95b3d7", "stroke": "#4a6fa0", "strokeWidth": 1.5},
    "encoding": {"x": {"datum": {"year": 2018, "month": 5, "date": 17, "utc": true}, "type": "temporal"}, "x2": {"datum": {"year": 2018, "month": 7, "date": 7, "utc": true}}, "y": {"datum": 1.276, "type": "quantitative"}, "y2": {"datum": 0.906}}},
   {"data": {"values": [{}]}, "mark": {"type": "text", "text": "Takasaki", "fontSize": 24, "fontWeight": "bold", "color": "#111111", "baseline": "middle", "align": "center"},
    "encoding": {"x": {"datum": {"year": 2018, "month": 6, "date": 11, "hours": 12, "utc": true}, "type": "temporal"}, "y": {"datum": 1.09, "type": "quantitative"}}},
   {"data": {"values": [{}]}, "mark": {"type": "rect", "fill": "#dfe3ea", "stroke": "#5f7fab", "strokeWidth": 1.5},
    "encoding": {"x": {"datum": {"year": 2018, "month": 8, "date": 14, "utc": true}, "type": "temporal"}, "x2": {"datum": {"year": 2018, "month": 10, "date": 30, "utc": true}}, "y": {"datum": 1.334, "type": "quantitative"}, "y2": {"datum": 1.07}}},
   {"data": {"values": [{}]}, "mark": {"type": "point", "filled": true, "fill": "#ffff00", "stroke": "#333333", "strokeWidth": 1, "size": 60, "opacity": 1},
    "encoding": {"x": {"datum": {"year": 2018, "month": 8, "date": 23, "utc": true}, "type": "temporal"}, "y": {"datum": 1.2, "type": "quantitative"}}},
   {"data": {"values": [{}]}, "mark": {"type": "text", "text": "Xe-135", "fontSize": 21, "color": "#222222", "baseline": "middle", "align": "left"},
    "encoding": {"x": {"datum": {"year": 2018, "month": 8, "date": 29, "utc": true}, "type": "temporal"}, "y": {"datum": 1.2, "type": "quantitative"}}},
   {"data": {"values": [{}]}, "mark": {"type": "rule", "color": "#ff0000", "strokeWidth": 2.5},
    "encoding": {"x": {"datum": {"year": 2018, "month": 9, "date": 28, "utc": true}, "type": "temporal"}, "x2": {"datum": {"year": 2018, "month": 10, "date": 7, "utc": true}}, "y": {"datum": 1.2, "type": "quantitative"}}},
   {"data": {"values": [{}]}, "mark": {"type": "text", "text": "MDC", "fontSize": 21, "color": "#222222", "baseline": "middle", "align": "left"},
    "encoding": {"x": {"datum": {"year": 2018, "month": 10, "date": 9, "hours": 12, "utc": true}, "type": "temporal"}, "y": {"datum": 1.2, "type": "quantitative"}}}
  ]
 }
]
}
